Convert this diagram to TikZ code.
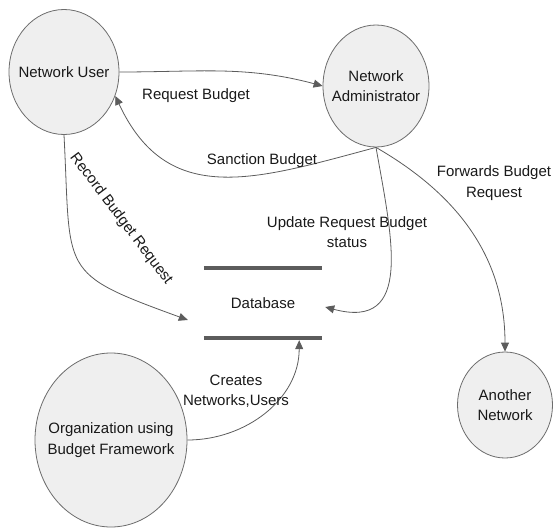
\documentclass[tikz,border=0pt]{standalone}
\usepackage{fontspec}
\setmainfont{Liberation Sans}
\usetikzlibrary{shapes.geometric, arrows.meta}
\definecolor{entityfill}{HTML}{EFEFEF}
\definecolor{edgegray}{HTML}{5C5C5C}

\begin{document}
\begin{tikzpicture}[x=1pt, y=-1pt,
    font=\fontsize{15}{20.5}\selectfont,
    entity/.style={ellipse, draw=edgegray!90, fill=entityfill, line width=0.8pt,
        inner xsep=-12pt, inner ysep=0pt, align=center, text=black!90},
    flow/.style={draw=edgegray, line width=0.8pt, -{Triangle[length=9pt, width=8pt]}},
    flowtext/.style={align=center, text=black!90, inner sep=0pt},
    store/.style={draw=edgegray, line width=3.5pt}]

    \useasboundingbox (0,0) rectangle (559,527);

    % Entidades externas
    \node[entity, minimum width=110pt, minimum height=125pt] (user) at (64,72) {Network User};
    \node[entity, minimum width=106pt, minimum height=122pt] (admin) at (376,86) {Network\\Administrator};
    \node[entity, minimum width=95pt, minimum height=106pt] (other) at (505,405) {Another\\Network};
    \node[entity, minimum width=152pt, minimum height=174pt] (org) at (111,440) {Organization using\\Budget Framework};

    % Depósito de dados
    \node[minimum width=118pt, minimum height=70pt, text=black!90] (db) at (263,303) {Database};
    \draw[store] (db.north west) -- (db.north east);
    \draw[store] (db.south west) -- (db.south east);

    % Fluxos entre usuario e administrador
    \draw[flow] (user.east) to[out=0, in=165] (admin.west);
    \node[flowtext] (reqtext) at (196,96) {Request Budget};
    \draw[flow] (admin.south) to[out=195, in=-65, looseness=1.2] (user.-25);
    \node[flowtext] (sanctext) at (262,161) {Sanction Budget};

    % Fluxos para o banco de dados
    \draw[flow] (user.south) to[out=-87, in=160, looseness=1.6] ([shift={(-16,17)}]db.west);
    \node[flowtext, rotate=-53] (rectext) at (121,219) {Record Budget Request};
    \draw[flow] (admin.south) to[out=-80, in=-15, looseness=1.4] ([shift={(3,4)}]db.east);
    \node[flowtext] (updtext) at (347,232) {Update Request Budget\\status};
    \draw[flow] (org.east) to[out=0, in=-90] ([shift={(-23,2)}]db.south east);
    \node[flowtext] (cretext) at (236,391) {Creates\\Networks,Users};

    % Fluxo para outra rede
    \draw[flow] (admin.south) to[out=-30, in=90] (other.north);
    \node[flowtext] (fwdtext) at (494,183) {Forwards Budget\\Request};
\end{tikzpicture}
\end{document}
